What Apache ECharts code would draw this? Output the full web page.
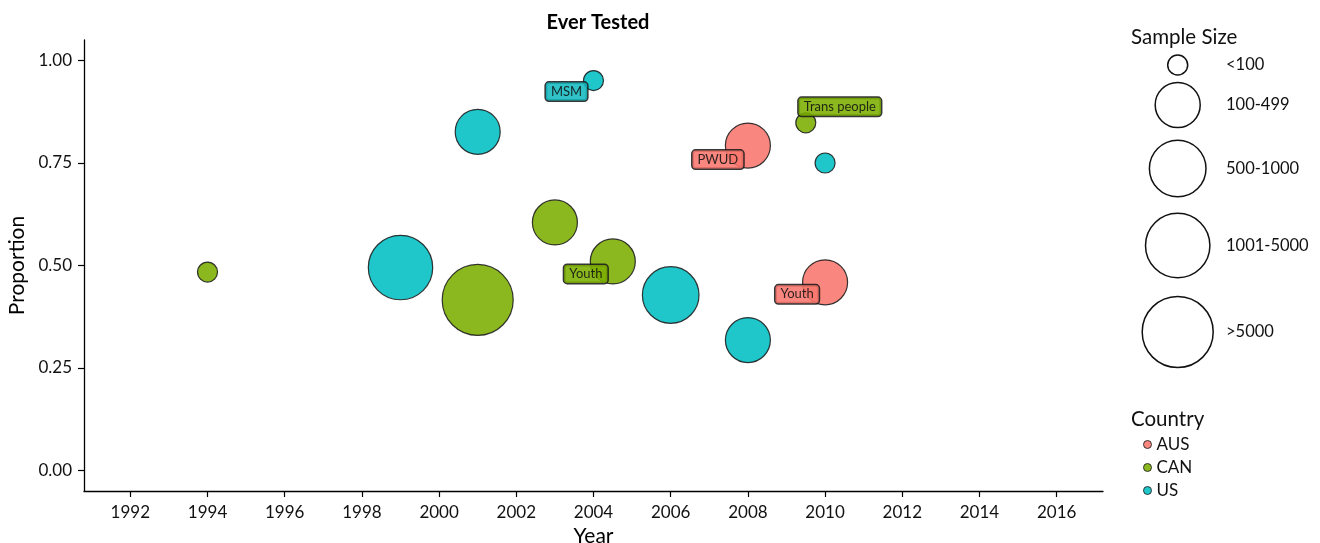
<!DOCTYPE html>
<html>
<head>
<meta charset="utf-8">
<script src="https://cdn.jsdelivr.net/npm/echarts@6/dist/echarts.min.js"></script>
<style>
html,body{margin:0;padding:0;background:#fff;}
#main{width:1320px;height:543px;}
</style>
</head>
<body>
<div id="main"></div>
<script>
// ---- data ----
const years       = [1994, 1999, 2001, 2001, 2003, 2004, 2004.5, 2006, 2008, 2008, 2009.5, 2010, 2010];
const proportions = [0.484, 0.495, 0.416, 0.826, 0.605, 0.951, 0.510, 0.428, 0.318, 0.7925, 0.848, 0.750, 0.459];
const countries   = ['CAN', 'US', 'CAN', 'US', 'CAN', 'US', 'CAN', 'US', 'US', 'AUS', 'CAN', 'US', 'AUS'];
const sampleCats  = ['<100', '1001-5000', '>5000', '100-499', '100-499', '<100', '100-499', '500-1000', '100-499', '100-499', '<100', '<100', '100-499'];
const subgroups   = ['', '', '', '', '', 'MSM', 'Youth', '', '', 'PWUD', 'Trans people', '', 'Youth'];

const countryNames = ['AUS', 'CAN', 'US'];
const sizeCategories = ['<100', '100-499', '500-1000', '1001-5000', '>5000'];
const xTicks = [1992, 1994, 1996, 1998, 2000, 2002, 2004, 2006, 2008, 2010, 2012, 2014, 2016];
const yTicks = [0, 0.25, 0.5, 0.75, 1];

// ---- styles ----
const FONT = 'Lato';
const sizeRadius = [10, 22.5, 28.3, 32.2, 35.5];
const bubbleColors = { AUS: '#F8766D', CAN: '#7CAE00', US: '#00BFC4' };
const labelColors  = { AUS: '#F8766D', CAN: '#7CAE00', US: '#14B9C0' };
const labelOffsets = { 5: [-27, 11], 6: [-27, 12.5], 9: [-30, 14], 10: [34, -16], 12: [-28, 12] };
const legendCenterY = [65, 105, 168.5, 245.5, 332];

function makeSeries(country) {
  const data = [];
  years.forEach((y, i) => {
    if (countries[i] !== country) return;
    const item = { value: [y, proportions[i], sizeCategories.indexOf(sampleCats[i])] };
    if (subgroups[i]) {
      item.label = {
        show: true,
        formatter: subgroups[i],
        position: 'inside',
        offset: labelOffsets[i] || [0, 0],
        color: '#111',
        fontFamily: FONT,
        fontSize: 13,
        backgroundColor: labelColors[country],
        borderColor: '#1a1a1a',
        borderWidth: 1.5,
        borderRadius: 3,
        padding: [3, 5, 2, 5]
      };
    }
    data.push(item);
  });
  return {
    name: country,
    type: 'scatter',
    data: data,
    symbol: 'circle',
    symbolSize: (v) => sizeRadius[v[2]] * 2,
    itemStyle: {
      color: bubbleColors[country],
      opacity: 0.88,
      borderColor: '#1a1a1a',
      borderWidth: 1.2
    },
    emphasis: { disabled: true },
    label: { show: false }
  };
}

const graphics = [];
sizeCategories.forEach((c, k) => {
  graphics.push({
    type: 'circle',
    shape: { cx: 1177.7, cy: legendCenterY[k], r: sizeRadius[k] },
    style: { fill: 'none', stroke: '#111', lineWidth: 1.5 },
    silent: true
  });
  graphics.push({
    type: 'text',
    x: 1226, y: legendCenterY[k],
    style: { text: c, fill: '#111', font: '16.5px ' + FONT, textVerticalAlign: 'middle', textAlign: 'left' },
    silent: true
  });
});
graphics.push({
  type: 'text', x: 1131, y: 37,
  style: { text: 'Sample Size', fill: '#111', font: '20.5px ' + FONT, textVerticalAlign: 'middle' }
});
graphics.push({
  type: 'text', x: 1131, y: 419,
  style: { text: 'Country', fill: '#111', font: '20.5px ' + FONT, textVerticalAlign: 'middle' }
});

const chart = echarts.init(document.getElementById('main'), null, { renderer: 'canvas' });
chart.setOption({
  animation: false,
  backgroundColor: '#fff',
  title: {
    text: 'Ever Tested',
    left: 593, top: 8, textAlign: 'center',
    textStyle: { fontFamily: FONT, fontSize: 20, fontWeight: 'bold', color: '#000' }
  },
  grid: { left: 84, right: 217, top: 40, bottom: 52, containLabel: false, outerBoundsMode: 'none' },
  xAxis: {
    type: 'value',
    min: 1990.8, max: 2017.2,
    name: 'Year', nameLocation: 'middle', nameGap: 35,
    nameTextStyle: { fontFamily: FONT, fontSize: 21, color: '#000' },
    axisLine: { show: true, onZero: false, lineStyle: { color: '#000', width: 1.3 } },
    axisTick: { show: true, length: 6, customValues: xTicks, lineStyle: { color: '#000', width: 1.2 } },
    axisLabel: { customValues: xTicks, margin: 13, fontFamily: FONT, fontSize: 17, color: '#111',
      formatter: (v) => String(v) },
    splitLine: { show: false }
  },
  yAxis: {
    type: 'value',
    min: -0.05, max: 1.05,
    name: 'Proportion', nameLocation: 'middle', nameGap: 55,
    nameTextStyle: { fontFamily: FONT, fontSize: 21, color: '#000' },
    axisLine: { show: true, onZero: false, lineStyle: { color: '#000', width: 1.3 } },
    axisTick: { show: true, length: 6, customValues: yTicks, lineStyle: { color: '#000', width: 1.2 } },
    axisLabel: { customValues: yTicks, margin: 12, fontFamily: FONT, fontSize: 17, color: '#111',
      formatter: (v) => v.toFixed(2) },
    splitLine: { show: false }
  },
  legend: {
    data: countryNames,
    orient: 'vertical',
    left: 1138, top: 431,
    icon: 'circle',
    itemWidth: 8, itemHeight: 8,
    itemGap: 6,
    selectedMode: false,
    itemStyle: { borderColor: '#222', borderWidth: 1 },
    textStyle: { fontFamily: FONT, fontSize: 17, color: '#111', lineHeight: 16 }
  },
  graphic: graphics,
  series: countryNames.map(makeSeries)
});
</script>
</body>
</html>
